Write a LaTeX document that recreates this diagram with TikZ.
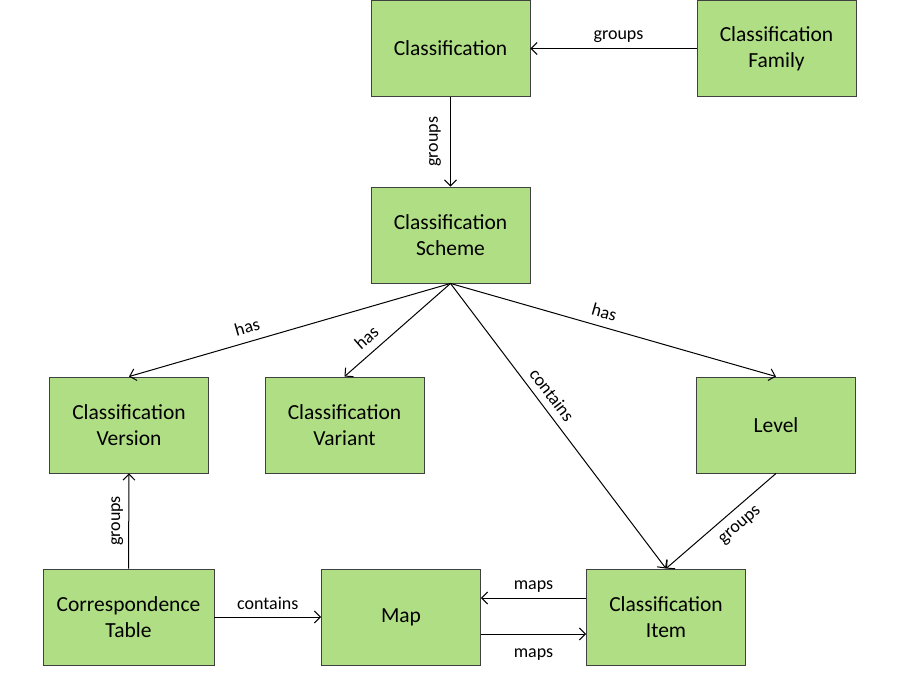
\documentclass[tikz,border=0pt]{standalone}
\usepackage{fontspec}
\setmainfont{Carlito}
\usetikzlibrary{arrows.meta}
\definecolor{boxgreen}{RGB}{176,222,132}
\definecolor{boxline}{RGB}{64,64,64}
\tikzset{
  box/.style={draw=boxline, line width=0.9pt, fill=boxgreen, minimum width=159pt, minimum height=96pt, inner sep=0pt, align=center, font=\fontsize{21.5}{26}\selectfont},
  conn/.style={draw=black, line width=1pt, -{Straight Barb[length=6pt,width=12pt]}},
  lbl/.style={font=\fontsize{18}{21}\selectfont, inner sep=5pt}
}
\begin{document}
\begin{tikzpicture}[x=1pt,y=-1pt]
\useasboundingbox (0,0) rectangle (900,680);
\node[box] (cls) at (450.5,48.5) {Classification};
\node[box] (fam) at (776.5,48.5) {Classification\\Family};
\node[box] (sch) at (450.5,235) {Classification\\Scheme};
\node[box] (ver) at (129,425) {Classification\\Version};
\node[box] (var) at (344.5,425) {Classification\\Variant};
\node[box] (lev) at (776,425) {Level};
\node[box, minimum width=171pt] (ct) at (128.5,617) {Correspondence\\Table};
\node[box] (map) at (401,617) {Map};
\node[box] (item) at (666,617) {Classification\\Item};

\draw[conn] (fam.west) -- node[lbl, above, pos=0.47] {groups} (cls.east);
\draw[conn] (cls.south) -- node[lbl, midway, rotate=90, anchor=south, xshift=0pt, yshift=4pt] {groups} (sch.north);
\draw[conn] (sch.south) -- node[lbl, sloped, above=3pt, pos=0.62] {has} (ver.north);
\draw[conn] (sch.south) -- node[lbl, sloped, above=3pt, pos=0.7] {has} (var.north);
\draw[conn] (sch.south) -- node[lbl, sloped, above=3pt, pos=0.46] {has} (lev.north);
\draw[conn] (sch.south) -- node[lbl, sloped, above=2pt, pos=0.42] {contains} (item.north);
\draw[conn] (lev.south) -- node[lbl, sloped, below=5pt, pos=0.42] {groups} (item.north);
\draw[conn] (ct.north) -- node[lbl, midway, rotate=90, anchor=south] {groups} (ver.south);
\draw[conn] (ct.east) -- node[lbl, above=2pt, midway] {contains} (map.west);
\draw[conn] ([yshift=19pt]item.west) -- node[lbl, above, midway] {maps} ([yshift=19pt]map.east);
\draw[conn] ([yshift=-17pt]map.east) -- node[lbl, below=9pt, midway] {maps} ([yshift=-17pt]item.west);
\end{tikzpicture}
\end{document}
